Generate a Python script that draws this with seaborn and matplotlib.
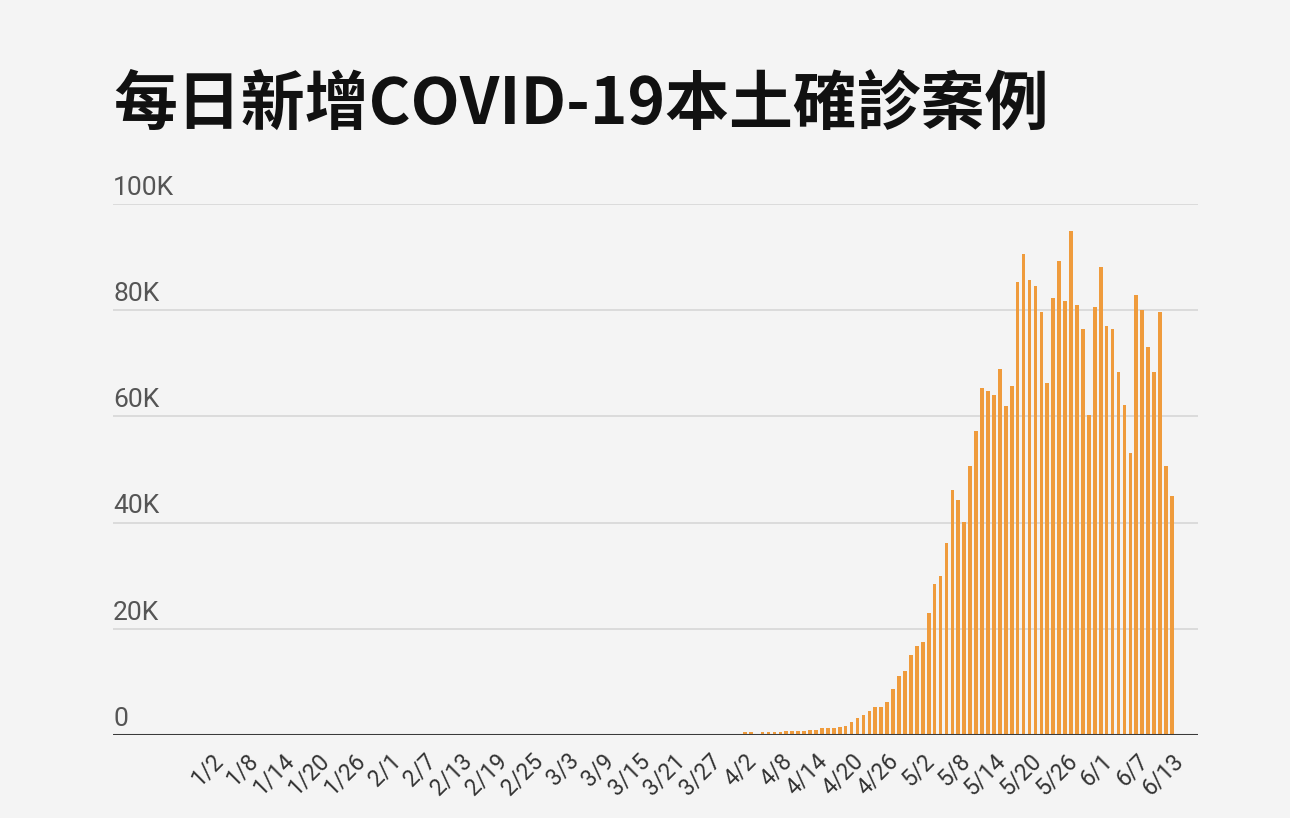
import matplotlib
matplotlib.use("Agg")
import matplotlib.pyplot as plt
import seaborn as sns
import pandas as pd

# 每日新增本土確診 (千人)
jan_mar = [0] * 90  # 1/1 ~ 3/31 幾乎看不到
april = [0, 0.5, 0.5, 0.2, 0.5, 0.5, 0.55, 0.6, 0.75, 0.75,
         0.75, 0.75, 1.0, 1.0, 1.25, 1.25, 1.25, 1.55, 1.75, 2.4,
         3.2, 3.8, 4.5, 5.2, 5.2, 6.3, 8.7, 11.2, 12.0, 15.1]
may = [16.7, 17.6, 23.0, 28.4, 30.0, 36.1, 46.2, 44.3, 40.1, 50.7,
       57.3, 65.3, 64.7, 64.0, 68.9, 61.9, 65.7, 85.4, 90.5, 85.7,
       84.6, 79.6, 66.3, 82.3, 89.3, 81.7, 94.9, 80.9, 76.4, 60.2, 80.6]
june = [88.2, 77.0, 76.4, 68.3, 62.2, 53.2, 82.9, 80.1, 73.0, 68.3,
        79.6, 50.6, 45.1]

y_ticks = [0, 20000, 40000, 60000, 80000, 100000]
y_tick_labels = ["0", "20K", "40K", "60K", "80K", "100K"]

dates = pd.date_range("2022-01-01", "2022-06-13", freq="D")
labels = [f"{d.month}/{d.day}" for d in dates]
cases = [v * 1000 for v in jan_mar + april + may + june]
df = pd.DataFrame({"date": labels, "cases": cases})

bg = "#f4f4f4"
bar_color = "#ef9b3c"

sns.set_theme(style="white")
plt.rcParams["font.family"] = ["Roboto", "DejaVu Sans"]

fig = plt.figure(figsize=(12.9, 8.18), dpi=100, facecolor=bg)
ax = fig.add_axes([113 / 1290, 83 / 818, 1085 / 1290, 531 / 818])
ax.set_facecolor(bg)

sns.barplot(data=df, x="date", y="cases", order=labels, color=bar_color,
            width=0.62, saturation=1, linewidth=0, ax=ax, zorder=3)

ax.set_ylim(0, 100000)
ax.set_xlim(-15.5, 167.4)

# 格線
for v in y_ticks[1:]:
    ax.axhline(v, color="#d6d6d6", lw=1.2, zorder=1)
ax.axhline(0, color="#3a3a3a", lw=2.2, zorder=4)

for s in ax.spines.values():
    s.set_visible(False)

# y 軸標籤 (放在格線上方)
ax.set_yticks([])
for v, t in zip(y_ticks, y_tick_labels):
    ax.annotate(t, xy=(0, v), xycoords=ax.get_yaxis_transform(),
                xytext=(0, 3), textcoords="offset points",
                ha="left", va="bottom", fontsize=19, color="#555555")

# x 軸標籤 每6天
tick_pos = list(range(1, len(labels), 6))
ax.set_xticks(tick_pos)
ax.set_xticklabels([labels[i] for i in tick_pos], rotation=45, ha="right",
                   rotation_mode="anchor", fontsize=16.5, color="#333333")
ax.tick_params(axis="x", length=0, pad=10)
ax.set_xlabel("")
ax.set_ylabel("")

fig.text(113 / 1290, 1 - 105 / 818, "每日新增COVID-19本土確診案例",
         fontsize=46, fontweight="bold", color="#111111", va="center", ha="left",
         family=["Noto Sans CJK TC", "DejaVu Sans"])

fig.savefig("out.png", dpi=100, facecolor=bg)
